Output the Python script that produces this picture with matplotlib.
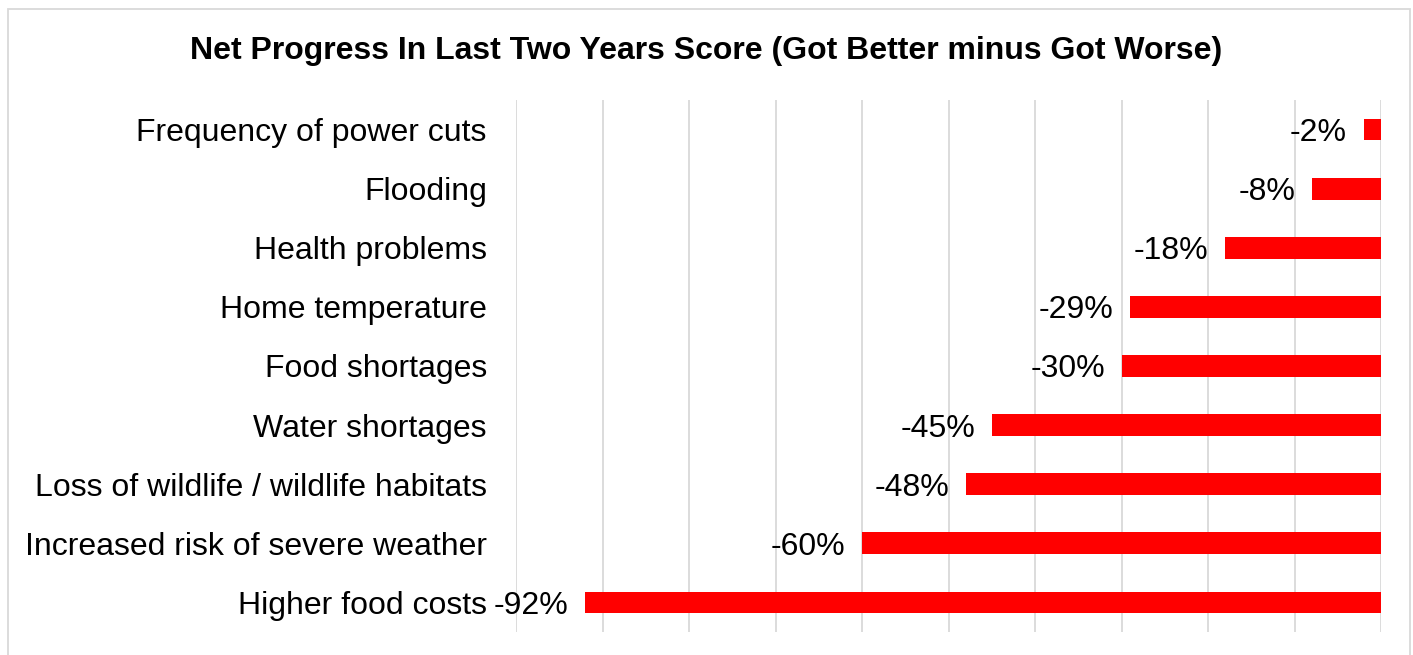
import matplotlib
matplotlib.use("Agg")
import matplotlib.pyplot as plt
from matplotlib.patches import Rectangle

plt.rcParams['font.family'] = ['Liberation Sans', 'DejaVu Sans']

# data (top to bottom as in the chart)
categories = [
    "Frequency of power cuts",
    "Flooding",
    "Health problems",
    "Home temperature",
    "Food shortages",
    "Water shortages",
    "Loss of wildlife / wildlife habitats",
    "Increased risk of severe weather",
    "Higher food costs",
]
values = [-2, -8, -18, -29, -30, -45, -48, -60, -92]
title = "Net Progress In Last Two Years Score (Got Better minus Got Worse)"

fig = plt.figure(figsize=(14.13, 6.55), dpi=100)
# axes placed to match the reference plot area (pixels 516..1381 x 100..632)
ax = fig.add_axes([516 / 1413, 1 - 632 / 655, 865 / 1413, 532 / 655])

y = list(range(len(categories)))
ax.barh(y, values, height=0.37, color='#FF0000', zorder=3)

for yi, v in zip(y, values):
    ax.annotate(f"{v}%", xy=(v, yi), xytext=(-12, -2.5), textcoords='offset points',
                ha='right', va='center', fontsize=23)

ax.set_xlim(-100, 0)
ax.set_ylim(len(categories) - 0.5, -0.5)
ax.set_xticks(range(-100, 1, 10))
ax.set_xticklabels([])
ax.tick_params(axis='x', length=0)
ax.set_yticks(y)
ax.set_yticklabels(categories, fontsize=23)
ax.tick_params(axis='y', length=0, pad=21)
ax.grid(axis='x', color='#D9D9D9', linewidth=1.3, zorder=0)
ax.set_axisbelow(True)
for s in ax.spines.values():
    s.set_visible(False)

fig.text(0.5, 1 - 51 / 655, title, ha='center', va='center',
         fontsize=23, fontweight='bold')

# outer chart border
fig.patches.append(Rectangle((8 / 1413, -0.05), 1402 / 1413, 1.05 - 9 / 655,
                             transform=fig.transFigure, fill=False,
                             edgecolor='#D9D9D9', linewidth=1.3))

fig.savefig("out.png", dpi=100)
